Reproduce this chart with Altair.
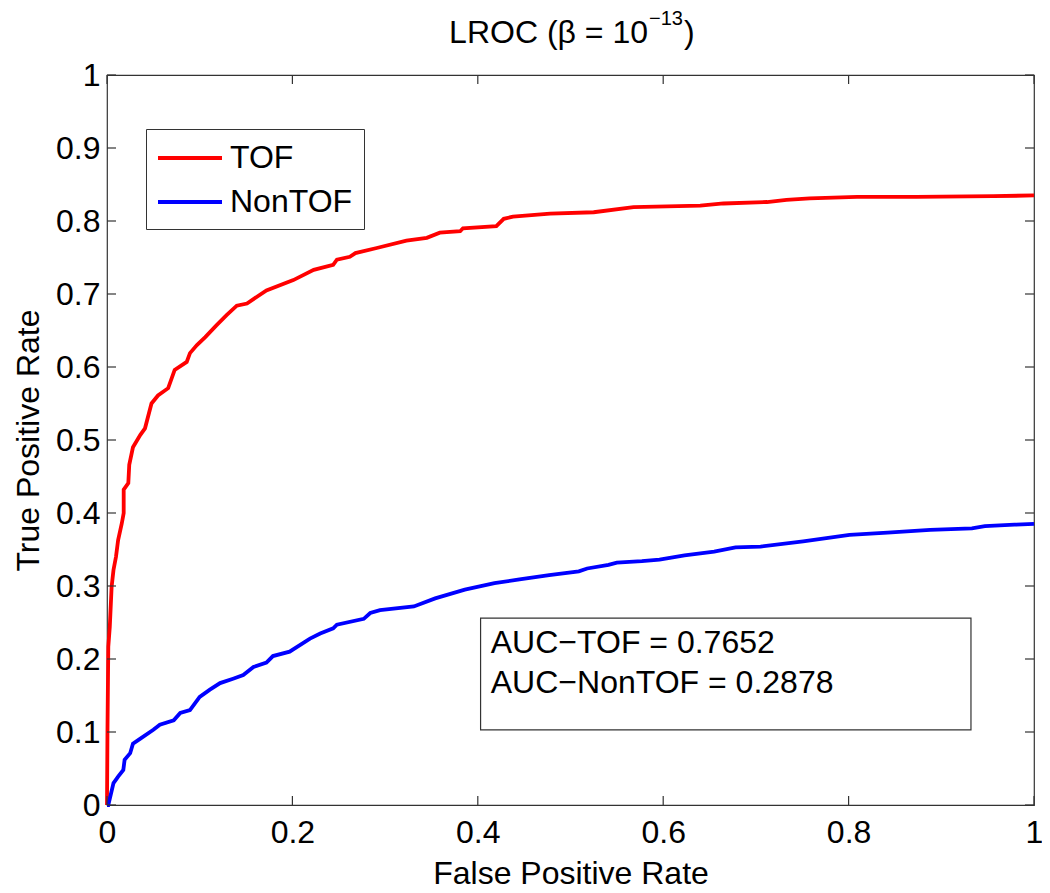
import altair as alt
import pandas as pd

# ---- data ----
tof_fpr = [0, 0.0005, 0.0014, 0.003, 0.005, 0.007, 0.0097, 0.012, 0.016, 0.018, 0.018, 0.023,
           0.024, 0.028, 0.036, 0.041, 0.048, 0.055, 0.066, 0.073, 0.086, 0.0895, 0.097, 0.106,
           0.118, 0.129, 0.14, 0.151, 0.172, 0.201, 0.223, 0.244, 0.248, 0.262, 0.268, 0.291,
           0.323, 0.345, 0.359, 0.381, 0.384, 0.42, 0.428, 0.438, 0.478, 0.525, 0.568, 0.64,
           0.665, 0.712, 0.733, 0.758, 0.809, 0.873, 0.956, 1.0]
tof_tpr = [0, 0.1, 0.217, 0.244, 0.299, 0.322, 0.34, 0.363, 0.386, 0.4, 0.432, 0.441,
           0.466, 0.49, 0.507, 0.516, 0.55, 0.561, 0.571, 0.596, 0.607, 0.619, 0.63, 0.641,
           0.657, 0.671, 0.684, 0.687, 0.705, 0.719, 0.733, 0.74, 0.747, 0.751, 0.756, 0.763,
           0.773, 0.777, 0.784, 0.786, 0.79, 0.793, 0.803, 0.806, 0.81, 0.812, 0.819, 0.821,
           0.824, 0.826, 0.829, 0.831, 0.833, 0.833, 0.834, 0.835]

nontof_fpr = [0, 0.0014, 0.007, 0.012, 0.0176, 0.019, 0.025, 0.028, 0.036, 0.05, 0.057, 0.072,
              0.079, 0.0895, 0.1, 0.111, 0.122, 0.136, 0.147, 0.158, 0.172, 0.179, 0.197, 0.219,
              0.23, 0.244, 0.248, 0.277, 0.284, 0.2945, 0.331, 0.354, 0.386, 0.418, 0.445, 0.477,
              0.509, 0.518, 0.541, 0.55, 0.577, 0.596, 0.623, 0.655, 0.678, 0.705, 0.751, 0.801,
              0.842, 0.888, 0.933, 0.947, 0.979, 1.0]
nontof_tpr = [0, 0, 0.03, 0.039, 0.048, 0.062, 0.071, 0.084, 0.091, 0.103, 0.11, 0.116,
              0.126, 0.13, 0.148, 0.158, 0.167, 0.173, 0.178, 0.189, 0.195, 0.204, 0.21, 0.228,
              0.235, 0.242, 0.247, 0.255, 0.263, 0.267, 0.272, 0.283, 0.295, 0.304, 0.309, 0.315,
              0.32, 0.324, 0.329, 0.332, 0.334, 0.336, 0.342, 0.347, 0.353, 0.354, 0.361, 0.37,
              0.373, 0.377, 0.379, 0.382, 0.384, 0.385]

series_names = ["TOF", "NonTOF"]
series_colors = ["#ff0000", "#0000ff"]
x_ticks = [0, 0.2, 0.4, 0.6, 0.8, 1.0]
y_ticks = [0, 0.1, 0.2, 0.3, 0.4, 0.5, 0.6, 0.7, 0.8, 0.9, 1.0]
auc_lines = ["AUC\u2212TOF = 0.7652", "AUC\u2212NonTOF = 0.2878"]
auc_box = {"x": 0.403, "x2": 0.932, "y": 0.103, "y2": 0.256}
auc_text_x = 0.414
auc_text_y = [0.222, 0.167]
title_main = "LROC (\u03b2 = 10"
title_sup = "\u221213"
title_end = ")"

FONT = "Liberation Sans"
FS = 32
W, H = 927, 730
AX = "#333333"

rows = []
for i, (a, b) in enumerate(zip(tof_fpr, tof_tpr)):
    rows.append({"fpr": a, "tpr": b, "series": "TOF", "idx": i})
for i, (a, b) in enumerate(zip(nontof_fpr, nontof_tpr)):
    rows.append({"fpr": a, "tpr": b, "series": "NonTOF", "idx": i})
df = pd.DataFrame(rows)

xscale = alt.Scale(domain=[0, 1], nice=False, zero=False)
yscale = alt.Scale(domain=[0, 1], nice=False, zero=False)

axis_style = dict(labelFont=FONT, labelFontSize=FS, labelColor="black",
                  titleFont=FONT, titleFontSize=FS, titleFontWeight="normal",
                  titleColor="black", tickSize=0, domain=False, grid=False,
                  labelFlush=False, format="~g")

lines = alt.Chart(df).mark_line(strokeWidth=3.8).encode(
    x=alt.X("fpr:Q", scale=xscale,
            axis=alt.Axis(title="False Positive Rate", values=x_ticks,
                          labelPadding=12, titlePadding=10, **axis_style)),
    y=alt.Y("tpr:Q", scale=yscale,
            axis=alt.Axis(title="True Positive Rate", values=y_ticks,
                          labelPadding=7, titlePadding=10, **axis_style)),
    color=alt.Color("series:N",
                    scale=alt.Scale(domain=series_names, range=series_colors),
                    legend=alt.Legend(title=None, orient="none", legendX=39, legendY=54,
                                      symbolType="M-2,0H2", symbolSize=1024,
                                      symbolStrokeWidth=3.8, symbolOffset=15,
                                      labelFontSize=FS, labelFont=FONT, labelColor="black",
                                      padding=11, rowPadding=10, strokeColor=AX,
                                      fillColor="white", labelOffset=22, labelLimit=400)),
    order="idx:Q",
)

xt = pd.DataFrame({"v": x_ticks})
yt = pd.DataFrame({"v": y_ticks})
tick_len = 9
xb = alt.Chart(xt).mark_rule(color=AX, strokeWidth=1.2).encode(
    x="v:Q", y=alt.value(H), y2=alt.value(H - tick_len))
xtp = alt.Chart(xt).mark_rule(color=AX, strokeWidth=1.2).encode(
    x="v:Q", y=alt.value(0), y2=alt.value(tick_len))
yl = alt.Chart(yt).mark_rule(color=AX, strokeWidth=1.2).encode(
    y="v:Q", x=alt.value(0), x2=alt.value(tick_len))
yr = alt.Chart(yt).mark_rule(color=AX, strokeWidth=1.2).encode(
    y="v:Q", x=alt.value(W), x2=alt.value(W - tick_len))

box = alt.Chart(pd.DataFrame([auc_box])).mark_rect(
    fill="white", stroke=AX, strokeWidth=1.2).encode(
    x="x:Q", x2="x2:Q", y="y:Q", y2="y2:Q")
txt = alt.Chart(pd.DataFrame({"t": auc_lines, "x": [auc_text_x] * 2, "y": auc_text_y})).mark_text(
    align="left", baseline="middle", font=FONT, fontSize=FS, color="black").encode(
    x="x:Q", y="y:Q", text="t:N")

# title: "LROC (β = 10" with superscript "−13" and closing ")"
t_join = 541
t1 = alt.Chart(pd.DataFrame({"t": [title_main]})).mark_text(
    align="right", baseline="alphabetic", font=FONT, fontSize=FS, color="black").encode(
    x=alt.value(t_join), y=alt.value(-32), text="t:N")
t2 = alt.Chart(pd.DataFrame({"t": [title_sup]})).mark_text(
    align="left", baseline="alphabetic", font=FONT, fontSize=20, color="black").encode(
    x=alt.value(t_join + 1), y=alt.value(-50), text="t:N")
t3 = alt.Chart(pd.DataFrame({"t": [title_end]})).mark_text(
    align="left", baseline="alphabetic", font=FONT, fontSize=FS, color="black").encode(
    x=alt.value(t_join + 36), y=alt.value(-32), text="t:N")

chart = alt.layer(lines, xb, xtp, yl, yr, box, txt, t1, t2, t3).properties(
    width=W, height=H,
    autosize=alt.AutoSizeParams(type="none"),
    padding={"left": 99, "top": 67, "right": 8, "bottom": 88},
).configure(background="white").configure_view(stroke=AX, strokeWidth=1.2)

chart.save("out.html", embed_options={"renderer": "svg", "actions": False})
